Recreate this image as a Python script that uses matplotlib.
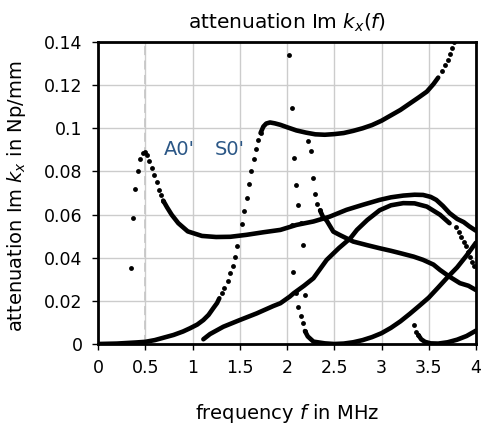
import matplotlib
matplotlib.use("Agg")
import matplotlib.pyplot as plt

plt.rcParams['font.family'] = ['DejaVu Sans']
plt.rcParams['mathtext.fontset'] = 'dejavusans'

# ---------------- data (frequency in MHz, attenuation in Np/mm) ----------------
# A0' branch: sparse rising part and peak
a0_dots_f = [0.346, 0.374, 0.395, 0.42, 0.444, 0.473, 0.497, 0.522, 0.543, 0.568, 0.596, 0.621, 0.642, 0.663, 0.691]
a0_dots_v = [0.0351, 0.0583, 0.0718, 0.0804, 0.0857, 0.0885, 0.0888, 0.0877, 0.085, 0.0818, 0.0784, 0.0749, 0.0715, 0.069, 0.0665]
# A0' branch: dense part
a0_f = [0.69, 0.73, 0.78, 0.85, 0.95, 1.1, 1.25, 1.4, 1.57, 1.75, 1.93, 2.1, 2.28, 2.45, 2.63, 2.8, 2.98, 3.1, 3.23, 3.35, 3.44, 3.52, 3.58, 3.65, 3.72, 3.8, 3.87, 3.93, 4.0]
a0_v = [0.0665, 0.0634, 0.0599, 0.056, 0.0522, 0.0501, 0.0496, 0.0497, 0.0506, 0.0518, 0.0529, 0.0552, 0.0568, 0.059, 0.0622, 0.0645, 0.0668, 0.068, 0.0688, 0.0692, 0.0691, 0.0682, 0.0668, 0.064, 0.0607, 0.058, 0.0565, 0.0545, 0.0525]

# S0' branch: dense low part
s0_low_f = [0.0, 0.2, 0.4, 0.5, 0.6, 0.7, 0.8, 0.9, 0.974, 1.05, 1.115, 1.17, 1.22, 1.26, 1.284]
s0_low_v = [0.0, 0.0002, 0.0007, 0.001, 0.0018, 0.003, 0.0042, 0.0058, 0.0073, 0.009, 0.0111, 0.0135, 0.0166, 0.019, 0.0212]
# S0' branch: sparse steep part
s0_mid_f = [1.309, 1.333, 1.372, 1.397, 1.425, 1.45, 1.474, 1.52, 1.545, 1.573, 1.595, 1.62, 1.647, 1.672, 1.697, 1.72]
s0_mid_v = [0.0235, 0.0258, 0.0292, 0.0328, 0.0363, 0.0405, 0.0452, 0.0557, 0.0617, 0.0679, 0.0742, 0.0803, 0.0857, 0.0905, 0.0947, 0.0978]
# S0' branch: dense upper part
s0_high_f = [1.72, 1.75, 1.78, 1.82, 1.87, 1.93, 2.0, 2.1, 2.2, 2.3, 2.4, 2.5, 2.6, 2.7, 2.8, 2.9, 3.0, 3.1, 3.2, 3.3, 3.4, 3.48, 3.55, 3.6]
s0_high_v = [0.0978, 0.1008, 0.1022, 0.1027, 0.1023, 0.1016, 0.1005, 0.099, 0.098, 0.0972, 0.097, 0.0973, 0.0978, 0.0988, 0.1, 0.1015, 0.1035, 0.106, 0.1085, 0.1115, 0.1145, 0.117, 0.1205, 0.1235]
# S0' branch: sparse top part
s0_top_f = [3.64, 3.67, 3.70, 3.72, 3.75, 3.77]
s0_top_v = [0.1264, 0.1295, 0.1318, 0.1344, 0.1372, 0.1398]

# third branch rising from 1.1 MHz
c_f = [1.115, 1.185, 1.326, 1.5, 1.68, 1.855, 1.93, 2.03, 2.07, 2.18, 2.28, 2.42, 2.55, 2.67, 2.74, 2.85, 2.98, 3.1, 3.23, 3.35, 3.48, 3.62, 3.72]
c_v = [0.0022, 0.0046, 0.008, 0.0111, 0.0142, 0.0176, 0.0189, 0.022, 0.0235, 0.027, 0.0305, 0.039, 0.0445, 0.049, 0.0529, 0.0575, 0.062, 0.0643, 0.0653, 0.0652, 0.0637, 0.0599, 0.056]
c_dots_f = [3.79, 3.82, 3.84, 3.87, 3.89, 3.92, 3.94, 3.96, 3.98]
c_dots_v = [0.0544, 0.0521, 0.0498, 0.0475, 0.0452, 0.0428, 0.0405, 0.0382, 0.036]

# descending branch starting at 2.2 MHz
e_dots_f = [2.225, 2.25, 2.27, 2.296, 2.32, 2.35]
e_dots_v = [0.0942, 0.0896, 0.0769, 0.0696, 0.065, 0.0619]
e_f = [2.35, 2.38, 2.42, 2.49, 2.56, 2.7, 2.85, 2.98, 3.1, 3.2, 3.34, 3.44, 3.55, 3.62, 3.72, 3.83, 3.92, 4.0]
e_v = [0.0619, 0.059, 0.0572, 0.0521, 0.0505, 0.0475, 0.0458, 0.0444, 0.0432, 0.0421, 0.0405, 0.039, 0.0368, 0.0343, 0.0312, 0.0282, 0.027, 0.025]

# steep sparse points near 2 MHz
d_dots_f = [2.02, 2.05, 2.074, 2.095, 2.12, 2.145, 2.166, 2.05, 2.067, 2.095, 2.19, 2.12, 2.145, 2.166, 2.19]
d_dots_v = [0.1341, 0.1094, 0.0862, 0.0738, 0.0645, 0.0563, 0.046, 0.0552, 0.0336, 0.0235, 0.0227, 0.0173, 0.013, 0.0096, 0.006]

# branch touching zero near 2.5 MHz and rising to 4 MHz
f_f = [2.19, 2.22, 2.28, 2.4, 2.5, 2.6, 2.7, 2.8, 2.9, 3.0, 3.1, 3.2, 3.3, 3.4, 3.5, 3.6, 3.7, 3.8, 3.9, 4.0]
f_v = [0.006, 0.0035, 0.0011, 0.0003, 0.0, 0.0002, 0.0008, 0.0018, 0.0032, 0.005, 0.0075, 0.0105, 0.014, 0.0177, 0.0215, 0.0262, 0.031, 0.0355, 0.041, 0.047]

# branch touching zero near 3.6 MHz
g_dots_f = [3.34, 3.37, 3.39]
g_dots_v = [0.0086, 0.0057, 0.0042]
g_f = [3.39, 3.42, 3.46, 3.52, 3.6, 3.7, 3.8, 3.9, 4.0]
g_v = [0.0042, 0.0022, 0.001, 0.0003, 0.0002, 0.0008, 0.002, 0.0037, 0.0062]

x_ticks = [0, 0.5, 1, 1.5, 2, 2.5, 3, 3.5, 4]
x_tick_labels = ["0", "0.5", "1", "1.5", "2", "2.5", "3", "3.5", "4"]
y_ticks = [0, 0.02, 0.04, 0.06, 0.08, 0.1, 0.12, 0.14]
y_tick_labels = ["0", "0.02", "0.04", "0.06", "0.08", "0.1", "0.12", "0.14"]

# ---------------- figure ----------------
fig = plt.figure(figsize=(4.82, 4.26), dpi=100)
ax = fig.add_axes([98 / 482, 1 - 344 / 426, 378 / 482, 302 / 426])

ax.set_xlim(0, 4)
ax.set_ylim(0, 0.14)
ax.grid(True, color='#cccccc', linewidth=1.0)
ax.set_axisbelow(True)
ax.axvline(0.5, color='#c8c8c8', linestyle=(0, (5, 3)), linewidth=1.3, zorder=1)

LW = 3.3
MS = 3.5
dense = [(a0_f, a0_v), (s0_low_f, s0_low_v), (s0_high_f, s0_high_v), (c_f, c_v),
         (e_f, e_v), (f_f, f_v), (g_f, g_v)]
for fx, vy in dense:
    ax.plot(fx, vy, '-', color='black', linewidth=LW, solid_capstyle='round',
            solid_joinstyle='round', zorder=3)
sparse = [(a0_dots_f, a0_dots_v), (s0_mid_f, s0_mid_v), (s0_top_f, s0_top_v),
          (c_dots_f, c_dots_v), (e_dots_f, e_dots_v), (d_dots_f, d_dots_v), (g_dots_f, g_dots_v)]
for fx, vy in sparse:
    ax.plot(fx, vy, 'o', color='black', markersize=MS, markeredgewidth=0, zorder=3)

ax.text(0.862, 0.090, "A0'", color='#2b5786', fontsize=14, ha='center', va='center')
ax.text(1.39, 0.090, "S0'", color='#2b5786', fontsize=14, ha='center', va='center')

ax.set_xticks(x_ticks)
ax.set_xticklabels(x_tick_labels)
ax.set_yticks(y_ticks)
ax.set_yticklabels(y_tick_labels)
ax.tick_params(direction='out', length=4.5, width=1, pad=6.5, labelsize=12.5, colors='black')

for s in ax.spines.values():
    s.set_linewidth(2.0)
    s.set_color('black')

fig.text(287 / 482, 1 - 23 / 426, r"attenuation Im $k_x(f)$", fontsize=14.5,
         ha='center', va='center')
ax.set_xlabel(r"frequency $f$ in MHz", fontsize=14)
ax.xaxis.set_label_coords(0.5, (344 - 402) / 302)
ax.set_ylabel(r"attenuation Im $k_x$ in Np/mm", fontsize=14)
ax.yaxis.set_label_coords((28 - 98) / 378, 0.49)

fig.savefig("out.png", dpi=100)
